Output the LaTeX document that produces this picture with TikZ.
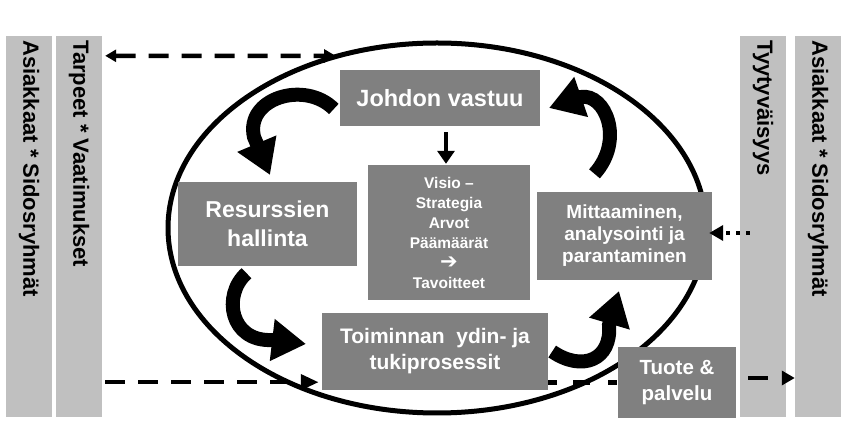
\documentclass[tikz,border=0pt]{standalone}
\usepackage{fontspec}
\setmainfont{Liberation Sans}
\newfontfamily\symfont{DejaVu Sans}
\usetikzlibrary{arrows.meta,calc}
\definecolor{boxgray}{RGB}{128,128,128}
\definecolor{bargray}{RGB}{192,192,192}
\tikzset{
  bar/.style={fill=bargray, minimum width=46pt, minimum height=381pt, inner sep=0pt},
  bartext/.style={font=\bfseries\fontsize{22}{25}\selectfont, inner sep=0pt, anchor=west, rotate=-90},
  box/.style={fill=boxgray, text=white, align=center, inner sep=0pt},
  dasharrow/.style={line width=4.5pt, dash pattern=on 20pt off 13pt},
  dotarrow/.style={line width=4.5pt, dash pattern=on 4pt off 6pt, -{Triangle[length=14pt,width=15pt]}},
  bigarrow/.style={line width=14pt, -{Triangle[length=34pt,width=40pt]}},
}
\begin{document}
\begin{tikzpicture}[x=1pt,y=-1pt]
\useasboundingbox (0,0) rectangle (847,435);
\fill[white] (0,0) rectangle (847,435);
% side bars
\node[bar] (bar1) at (29,226.5) {};
\node[bar] (bar2) at (79,226.5) {};
\node[bar] (bar3) at (763,226.5) {};
\node[bar] (bar4) at (818,226.5) {};
\node[bartext] (t1) at (29,40) {Asiakkaat * Sidosryhmät};
\node[bartext] (t2) at (79,40) {Tarpeet * Vaatimukset};
\node[bartext] (t3) at (763,40) {Tyytyväisyys};
\node[bartext] (t4) at (818,40) {Asiakkaat * Sidosryhmät};
% ellipse
\draw[line width=5pt] (437,228) ellipse [x radius=269, y radius=185];
% boxes
\node[box, minimum width=200pt, minimum height=56pt, font=\bfseries\fontsize{23.5}{28}\selectfont] (johdon) at (440,98) {Johdon vastuu};
\node[box, minimum width=179pt, minimum height=84pt, font=\bfseries\fontsize{23}{29}\selectfont] (resurs) at (267.5,224) {Resurssien\\hallinta};
\node[box, minimum width=162pt, minimum height=135pt, font=\bfseries\fontsize{15.5}{20}\selectfont] (visio) at (449,232.5) {Visio --\\Strategia\\Arvot\\Päämäärät\\{\symfont\bfseries\fontsize{21}{20}\selectfont ➔}\\Tavoitteet};
\node[box, minimum width=175pt, minimum height=88pt, font=\bfseries\fontsize{19}{22}\selectfont] (mitta) at (624.5,236) {Mittaaminen,\\analysointi ja\\parantaminen};
\node[box, minimum width=226pt, minimum height=77pt, font=\bfseries\fontsize{21}{26}\selectfont] (toim) at (435,351.5) {Toiminnan\ \ ydin- ja\\tukiprosessit};
\node[box, minimum width=118pt, minimum height=71pt, font=\bfseries\fontsize{20.5}{26}\selectfont] (tuote) at (677,382.5) {Tuote \&\\palvelu};
% dashed arrows
\coordinate (topend) at (336,56);
\draw[dasharrow, {Triangle[length=11pt,width=12pt]}-{Triangle[length=12pt,width=13pt]}] ($(bar2.north east)+(3,20)$) -- (topend);
\draw[dasharrow, -{Triangle[length=18pt,width=15pt]}] ($(bar2.south east)+(3,-35)$) -- ($(toim.south west)+(-3,-8)$);
\draw[dasharrow, dash pattern=on 9pt off 16pt on 17pt off 18pt] (toim.east |- tuote.west) -- (tuote.west);
\draw[dasharrow, dash pattern=on 20pt off 14pt, -{Triangle[length=13pt,width=14pt]}] ($(tuote.east)+(12,-4.5)$) -- ($(bar4.west)+(0,151.5)$);
% dotted arrow
\draw[dotarrow] ($(bar3.west)+(10,6.5)$) -- ($(mitta.east)+(-3,-3)$);
% small arrow
\draw[line width=4pt, -{Triangle[length=13pt,width=17pt]}] ($(johdon.south)+(6,6)$) -- ($(visio.north)+(-3,-1)$);
% big curved arrows
\draw[bigarrow] ($(johdon.west)+(-6,11)$) .. controls (305,80) and (245,98) .. (254,137) -- (270,175);
\draw[bigarrow] ($(resurs.south)+(-21,7)$) .. controls (222,295) and (230,342) .. (272,340) -- (306,344);
\draw[bigarrow] ($(toim.east)+(4,0)$) .. controls (582,372) and (612,360) .. (609,325) -- (619,291);
\draw[bigarrow] ($(mitta.north)+(-30,-18)$) .. controls (625,140) and (605,93) .. (581,97) -- (549,108);
\end{tikzpicture}
\end{document}
